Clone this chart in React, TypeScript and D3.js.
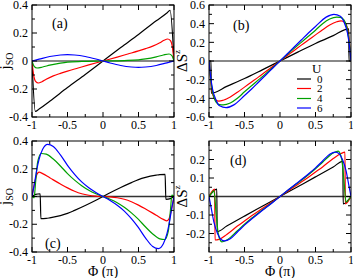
import React from "react";
import * as d3 from "d3";

// axis ticks
const phiTicks = [-1, -0.5, 0, 0.5, 1];
const phiMinor = [-0.75, -0.25, 0.25, 0.75];
const jTicks = [-0.4, -0.2, 0, 0.2, 0.4];
const jMinor = [-0.3, -0.1, 0.1, 0.3];
const sTicksB = [-0.6, -0.4, -0.2, 0, 0.2, 0.4, 0.6];
const sMinorB = [-0.5, -0.3, -0.1, 0.1, 0.3, 0.5];
const sTicksD = [-0.2, -0.1, 0, 0.1, 0.2];
const sMinorD = [-0.25, -0.15, -0.05, 0.05, 0.15, 0.25];

const uLabels = ["0", "2", "4", "6"];
const uColors = ["#000000", "#ff0000", "#00a000", "#0000ff"];

// panel (a): j_SO
const aPhiU0 = [-1, -0.953, -0.9, -0.75, -0.5, -0.25, 0, 0.25, 0.5, 0.75, 0.9, 0.945, 1];
const aJU0 = [0, -0.36, -0.343, -0.287, -0.19, -0.096, 0, 0.096, 0.19, 0.287, 0.343, 0.362, 0];
const aPhiU2 = [-1, -0.98, -0.95, -0.91, -0.86, -0.8, -0.7, -0.6, -0.5, -0.35, -0.2, 0, 0.2, 0.35, 0.5, 0.6, 0.7, 0.8, 0.86, 0.91, 0.95, 0.98, 1];
const aJU2 = [0, -0.09, -0.145, -0.157, -0.148, -0.13, -0.106, -0.088, -0.072, -0.05, -0.028, 0, 0.028, 0.05, 0.072, 0.088, 0.106, 0.13, 0.148, 0.157, 0.145, 0.09, 0];
const aPhiU4 = [-1, -0.97, -0.93, -0.85, -0.75, -0.6, -0.5, -0.3, 0, 0.3, 0.5, 0.6, 0.75, 0.85, 0.93, 0.97, 1];
const aJU4 = [0, -0.038, -0.05, -0.043, -0.03, -0.015, -0.008, -0.003, 0, 0.003, 0.008, 0.015, 0.03, 0.043, 0.05, 0.038, 0];
const aPhiU6 = [-1, -0.9, -0.75, -0.6, -0.5, -0.4, -0.25, -0.1, 0, 0.1, 0.25, 0.4, 0.5, 0.6, 0.75, 0.9, 1];
const aJU6 = [0, 0.013, 0.032, 0.043, 0.046, 0.043, 0.032, 0.014, 0, -0.014, -0.032, -0.043, -0.046, -0.043, -0.032, -0.013, 0];

// panel (b): delta S^z
const bPhiU0 = [-1, -0.972, -0.968, -0.75, -0.5, -0.25, 0, 0.25, 0.5, 0.75, 0.968, 0.972, 1];
const bSU0 = [0, 0, -0.345, -0.272, -0.188, -0.095, 0, 0.095, 0.188, 0.272, 0.345, 0, 0];
const bPhiU2 = [-1, -0.98, -0.95, -0.91, -0.86, -0.8, -0.7, -0.6, -0.5, -0.4, -0.3, -0.2, -0.1, 0, 0.1, 0.2, 0.3, 0.4, 0.5, 0.6, 0.7, 0.8, 0.86, 0.91, 0.95, 0.98, 1];
const bSU2 = [0, -0.18, -0.35, -0.415, -0.43, -0.42, -0.385, -0.335, -0.28, -0.225, -0.17, -0.113, -0.057, 0, 0.057, 0.113, 0.17, 0.225, 0.28, 0.335, 0.385, 0.42, 0.43, 0.415, 0.35, 0.18, 0];
const bPhiU4 = [-1, -0.98, -0.95, -0.9, -0.85, -0.8, -0.7, -0.6, -0.5, -0.4, -0.3, -0.2, -0.1, 0, 0.1, 0.2, 0.3, 0.4, 0.5, 0.6, 0.7, 0.8, 0.85, 0.9, 0.95, 0.98, 1];
const bSU4 = [0, -0.17, -0.33, -0.44, -0.468, -0.47, -0.45, -0.4, -0.33, -0.265, -0.2, -0.135, -0.068, 0, 0.068, 0.135, 0.2, 0.265, 0.33, 0.4, 0.45, 0.47, 0.468, 0.44, 0.33, 0.17, 0];
const bPhiU6 = [-1, -0.98, -0.95, -0.9, -0.85, -0.76, -0.65, -0.5, -0.4, -0.3, -0.2, -0.1, 0, 0.1, 0.2, 0.3, 0.4, 0.5, 0.65, 0.76, 0.85, 0.9, 0.95, 0.98, 1];
const bSU6 = [0, -0.15, -0.3, -0.42, -0.48, -0.5, -0.47, -0.37, -0.3, -0.225, -0.15, -0.075, 0, 0.075, 0.15, 0.225, 0.3, 0.37, 0.47, 0.5, 0.48, 0.42, 0.3, 0.15, 0];

// panel (c): j_SO
const cPhiU0 = [-1, -0.95, -0.885, -0.875, -0.8, -0.75, -0.6, -0.5, -0.4, -0.25, -0.1, 0, 0.1, 0.25, 0.4, 0.5, 0.6, 0.75, 0.8, 0.875, 0.885, 0.95, 1];
const cJU0 = [0, 0.015, 0.02, -0.16, -0.158, -0.154, -0.138, -0.122, -0.1, -0.065, -0.027, 0, 0.027, 0.065, 0.1, 0.122, 0.138, 0.154, 0.158, 0.16, -0.02, -0.015, 0];
const cPhiU2 = [-1, -0.97, -0.93, -0.9, -0.85, -0.75, -0.6, -0.5, -0.4, -0.3, -0.2, -0.1, 0, 0.1, 0.2, 0.3, 0.4, 0.5, 0.6, 0.75, 0.85, 0.9, 0.93, 0.97, 1];
const cJU2 = [0, 0.08, 0.16, 0.175, 0.165, 0.135, 0.09, 0.062, 0.038, 0.02, 0.009, 0.003, 0, -0.003, -0.009, -0.02, -0.038, -0.062, -0.09, -0.135, -0.165, -0.175, -0.16, -0.08, 0];
const cPhiU4 = [-1, -0.97, -0.95, -0.92, -0.87, -0.8, -0.7, -0.6, -0.5, -0.4, -0.3, -0.2, -0.1, 0, 0.1, 0.2, 0.3, 0.4, 0.5, 0.6, 0.7, 0.8, 0.87, 0.92, 0.95, 0.97, 1];
const cJU4 = [0, -0.01, 0.1, 0.25, 0.31, 0.305, 0.27, 0.22, 0.165, 0.118, 0.078, 0.045, 0.02, 0, -0.02, -0.045, -0.078, -0.118, -0.165, -0.22, -0.27, -0.305, -0.31, -0.25, -0.1, 0.01, 0];
const cPhiU6 = [-1, -0.97, -0.93, -0.9, -0.85, -0.78, -0.7, -0.6, -0.5, -0.4, -0.3, -0.2, -0.1, 0, 0.1, 0.2, 0.3, 0.4, 0.5, 0.6, 0.7, 0.78, 0.85, 0.9, 0.93, 0.97, 1];
const cJU6 = [0, 0.08, 0.2, 0.27, 0.34, 0.375, 0.36, 0.3, 0.225, 0.16, 0.105, 0.063, 0.029, 0, -0.029, -0.063, -0.105, -0.16, -0.225, -0.3, -0.36, -0.375, -0.34, -0.27, -0.2, -0.08, 0];

// panel (d): delta S^z
const dPhiU0 = [-1, -0.89, -0.885, -0.75, -0.5, -0.25, 0, 0.25, 0.5, 0.75, 0.885, 0.89, 1];
const dSU0 = [0, 0.04, -0.19, -0.16, -0.106, -0.053, 0, 0.053, 0.106, 0.16, 0.19, -0.04, 0];
const dPhiU2 = [-1, -0.92, -0.915, -0.86, -0.75, -0.6, -0.5, -0.4, -0.25, -0.1, 0, 0.1, 0.25, 0.4, 0.5, 0.6, 0.75, 0.86, 0.915, 0.92, 1];
const dSU2 = [0, 0.04, -0.235, -0.232, -0.205, -0.16, -0.132, -0.104, -0.065, -0.026, 0, 0.026, 0.065, 0.104, 0.132, 0.16, 0.205, 0.232, 0.24, -0.04, 0];
const dPhiU4 = [-1, -0.96, -0.93, -0.9, -0.87, -0.82, -0.75, -0.6, -0.5, -0.4, -0.25, -0.1, 0, 0.1, 0.25, 0.4, 0.5, 0.6, 0.75, 0.82, 0.87, 0.9, 0.93, 0.96, 1];
const dSU4 = [0, 0.02, 0.03, -0.09, -0.2, -0.245, -0.235, -0.185, -0.15, -0.118, -0.073, -0.03, 0, 0.03, 0.073, 0.118, 0.15, 0.185, 0.235, 0.245, 0.2, 0.09, -0.03, -0.02, 0];
const dPhiU6 = [-1, -0.97, -0.93, -0.88, -0.83, -0.78, -0.7, -0.6, -0.5, -0.4, -0.25, -0.1, 0, 0.1, 0.25, 0.4, 0.5, 0.6, 0.7, 0.78, 0.83, 0.88, 0.93, 0.97, 1];
const dSU6 = [0, -0.06, -0.14, -0.2, -0.232, -0.24, -0.228, -0.192, -0.155, -0.122, -0.076, -0.031, 0, 0.031, 0.076, 0.122, 0.155, 0.192, 0.228, 0.24, 0.232, 0.2, 0.14, 0.06, 0];

const FONT = "'Liberation Serif', 'DejaVu Serif', serif";

type Series = { phi: number[]; val: number[]; color: string };

function zipSeries(phis: number[][], vals: number[][]): Series[] {
  return phis.map((p, i) => ({ phi: p, val: vals[i], color: uColors[i] }));
}

function Panel(props: any) {
  const { id, left, top, width, height, yDomain, yTicks, yMinor, series, label, labelX, labelY, yTitle, xTitle, zeroColor, zeroWidth } = props;
  const x = d3.scaleLinear().domain([-1, 1]).range([left, left + width]);
  const y = d3.scaleLinear().domain(yDomain).range([top + height, top]);
  const line = d3
    .line<[number, number]>()
    .x((d) => x(d[0]))
    .y((d) => y(d[1]))
    .curve(d3.curveMonotoneX);
  const bottom = top + height;
  const right = left + width;
  const major = 5;
  const minor = 3;

  return (
    <g>
      <defs>
        <clipPath id={`clip-${id}`}>
          <rect x={left} y={top} width={width} height={height} />
        </clipPath>
      </defs>
      <line x1={left} x2={right} y1={y(0)} y2={y(0)} stroke={zeroColor} strokeWidth={zeroWidth} />
      <g clipPath={`url(#clip-${id})`}>
        {series.map((s: Series, i: number) => (
          <path
            key={i}
            d={line(s.phi.map((p, k) => [p, s.val[k]] as [number, number])) || ""}
            fill="none"
            stroke={s.color}
            strokeWidth={1.2}
          />
        ))}
      </g>
      <rect x={left} y={top} width={width} height={height} fill="none" stroke="#000" strokeWidth={1} />
      {/* x ticks, inward on bottom and top */}
      {phiTicks.map((t) => (
        <g key={`xt${t}`}>
          <line x1={x(t)} x2={x(t)} y1={bottom} y2={bottom - major} stroke="#000" />
          <line x1={x(t)} x2={x(t)} y1={top} y2={top + major} stroke="#000" />
          <text x={x(t)} y={bottom + 12} textAnchor="middle" fontSize={12} fontFamily={FONT}>
            {`${+t.toFixed(2)}`}
          </text>
        </g>
      ))}
      {phiMinor.map((t) => (
        <g key={`xm${t}`}>
          <line x1={x(t)} x2={x(t)} y1={bottom} y2={bottom - minor} stroke="#000" />
          <line x1={x(t)} x2={x(t)} y1={top} y2={top + minor} stroke="#000" />
        </g>
      ))}
      {/* y ticks, inward on left and right */}
      {yTicks.map((t: number) => (
        <g key={`yt${t}`}>
          <line x1={left} x2={left + major} y1={y(t)} y2={y(t)} stroke="#000" />
          <line x1={right} x2={right - major} y1={y(t)} y2={y(t)} stroke="#000" />
          <text x={left - 4} y={y(t)} dy="0.35em" textAnchor="end" fontSize={12} fontFamily={FONT}>
            {`${+t.toFixed(2)}`}
          </text>
        </g>
      ))}
      {yMinor.map((t: number) => (
        <g key={`ym${t}`}>
          <line x1={left} x2={left + minor} y1={y(t)} y2={y(t)} stroke="#000" />
          <line x1={right} x2={right - minor} y1={y(t)} y2={y(t)} stroke="#000" />
        </g>
      ))}
      <text x={labelX} y={labelY} fontSize={14} fontFamily={FONT} dy="0.35em">
        {label}
      </text>
      {yTitle === "j" ? (
        <text transform={`translate(${left - 22},${top + height / 2}) rotate(-90)`} textAnchor="middle" fontSize={15} fontFamily={FONT}>
          j<tspan fontSize={10} dy={3}>SO</tspan>
        </text>
      ) : (
        <text transform={`translate(${left - 22},${top + height / 2}) rotate(-90)`} textAnchor="middle" fontSize={15} fontFamily={FONT}>
          ΔS<tspan fontSize={9} dy={-7}>z</tspan>
        </text>
      )}
      {xTitle && (
        <text x={(left + right) / 2} y={bottom + 24} textAnchor="middle" fontSize={14} fontFamily={FONT}>
          Φ (π)
        </text>
      )}
    </g>
  );
}

export default function App() {
  const seriesA = zipSeries([aPhiU0, aPhiU2, aPhiU4, aPhiU6], [aJU0, aJU2, aJU4, aJU6]);
  const seriesB = zipSeries([bPhiU0, bPhiU2, bPhiU4, bPhiU6], [bSU0, bSU2, bSU4, bSU6]);
  const seriesC = zipSeries([cPhiU0, cPhiU2, cPhiU4, cPhiU6], [cJU0, cJU2, cJU4, cJU6]);
  const seriesD = zipSeries([dPhiU0, dPhiU2, dPhiU4, dPhiU6], [dSU0, dSU2, dSU4, dSU6]);

  const legendX = 297;
  const legendY = [79, 88.5, 98.5, 108];

  return (
    <svg width={353} height={278} style={{ position: "absolute", left: 0, top: 0, background: "#fff" }}>
      <Panel id="a" left={32} top={5} width={142} height={112} yDomain={[-0.4, 0.4]} yTicks={jTicks} yMinor={jMinor}
        series={seriesA} label="(a)" labelX={52} labelY={23} yTitle="j" xTitle={false} zeroColor="#888" zeroWidth={2} />
      <Panel id="b" left={209} top={5} width={142} height={112} yDomain={[-0.6, 0.6]} yTicks={sTicksB} yMinor={sMinorB}
        series={seriesB} label="(b)" labelX={233} labelY={25} yTitle="s" xTitle={false} zeroColor="#888" zeroWidth={2} />
      <Panel id="c" left={32} top={141} width={142} height={111} yDomain={[-0.4, 0.4]} yTicks={jTicks} yMinor={jMinor}
        series={seriesC} label="(c)" labelX={45} labelY={243} yTitle="j" xTitle={true} zeroColor="#333" zeroWidth={1.3} />
      <Panel id="d" left={209} top={141} width={142} height={111} yDomain={[-0.3, 0.3]} yTicks={sTicksD} yMinor={sMinorD}
        series={seriesD} label="(d)" labelX={230} labelY={160} yTitle="s" xTitle={true} zeroColor="#333" zeroWidth={1.3} />
      {/* legend in panel (b) */}
      <text x={312} y={68} dy="0.35em" fontSize={13} fontFamily={FONT}>U</text>
      {uLabels.map((u, i) => (
        <g key={u}>
          <line x1={legendX} x2={legendX + 14} y1={legendY[i]} y2={legendY[i]} stroke={uColors[i]} strokeWidth={1.2} />
          <text x={legendX + 20} y={legendY[i]} dy="0.35em" fontSize={11} fontFamily={FONT}>{u}</text>
        </g>
      ))}
    </svg>
  );
}
